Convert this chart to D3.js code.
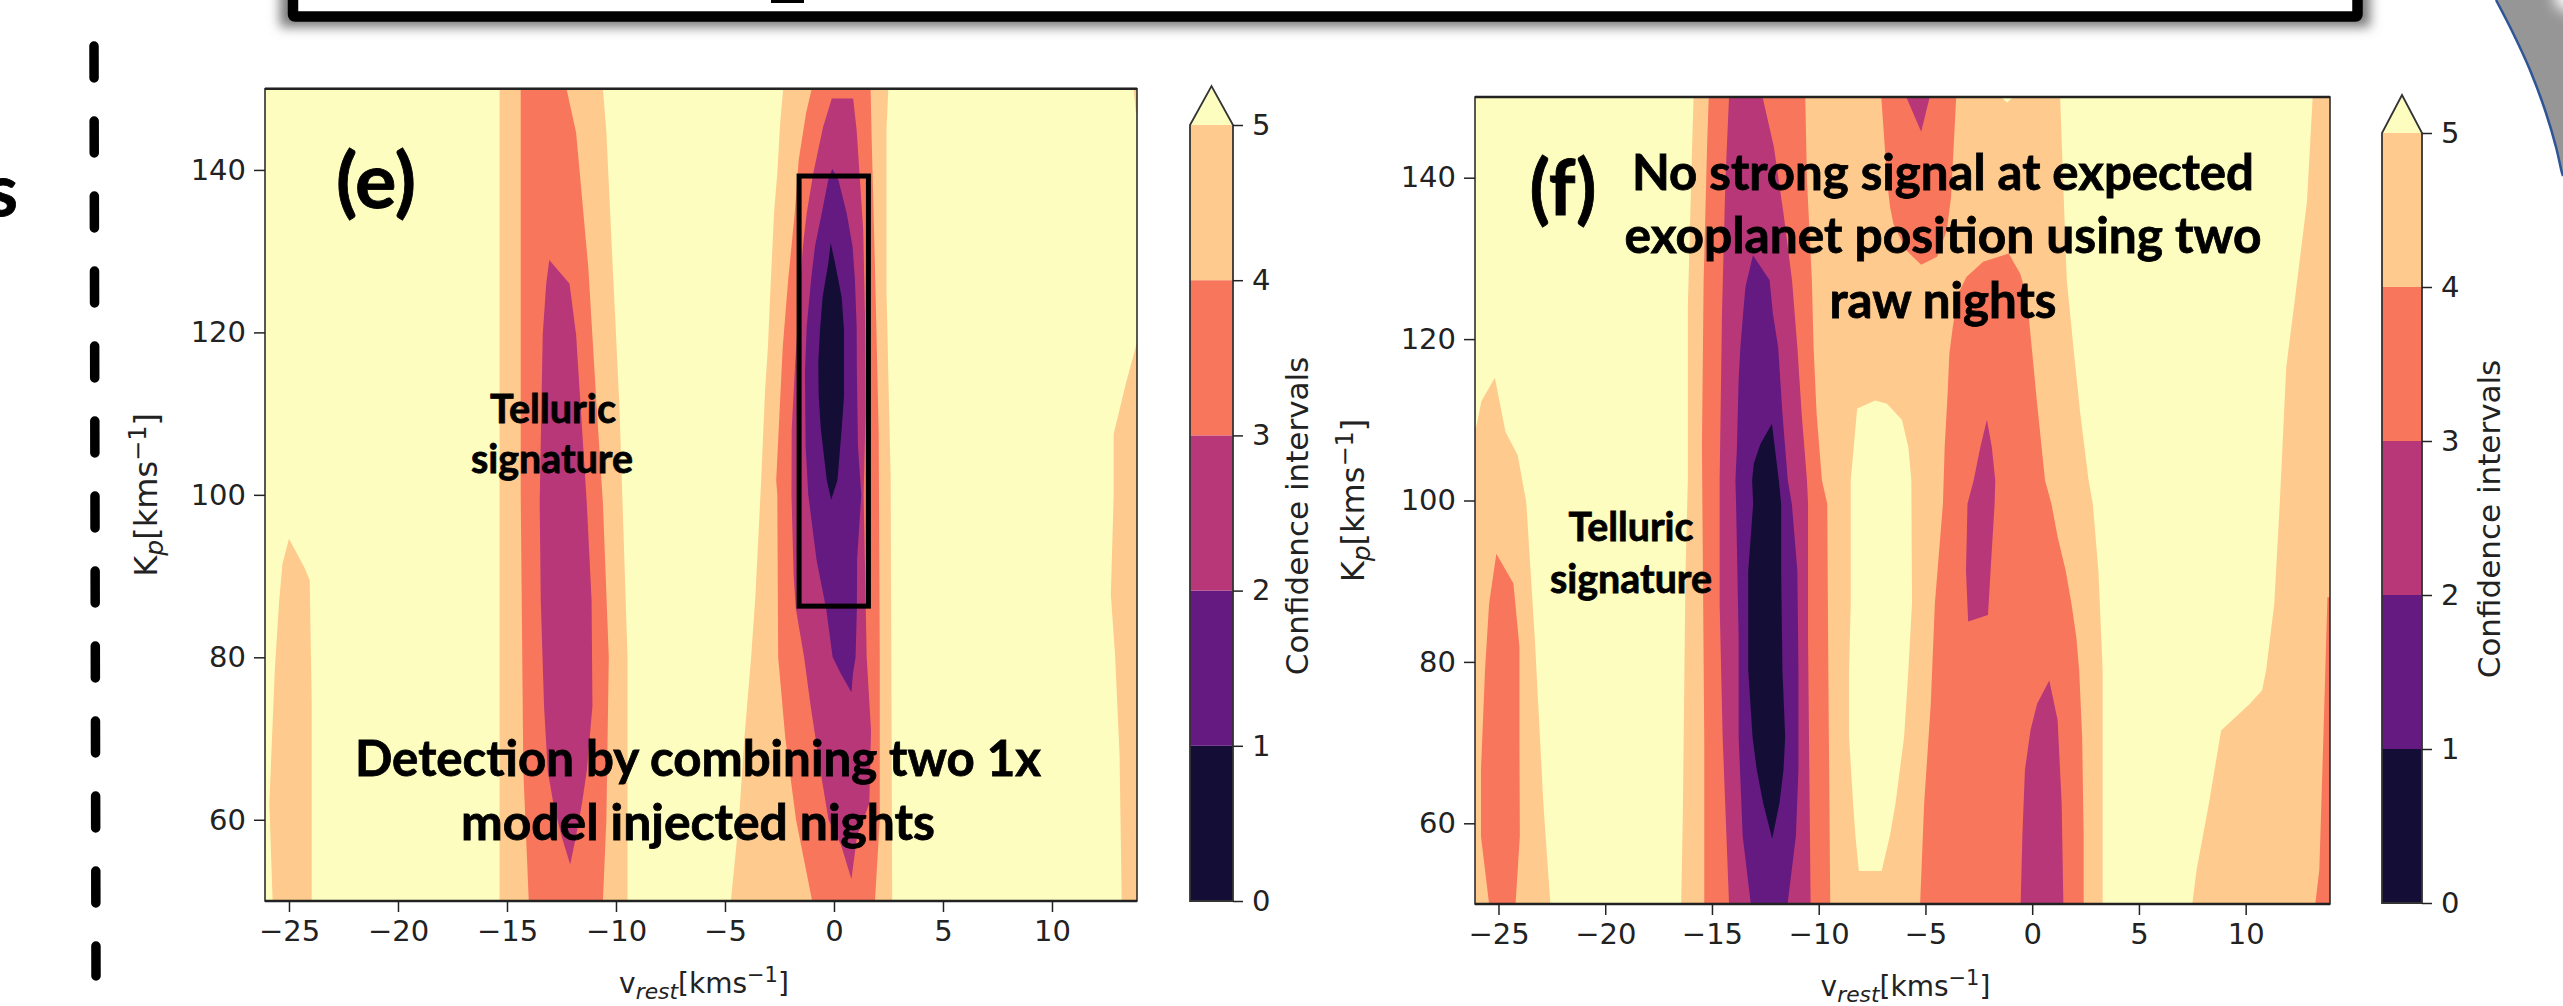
<!DOCTYPE html>
<html>
<head>
<meta charset="utf-8">
<script src="https://cdn.jsdelivr.net/npm/d3@7"></script>
<style>
  html, body { margin: 0; padding: 0; background: #fff; overflow: hidden; }
  .tick text, .lab { font-family: "DejaVu Sans"; fill: #222; }
  .note { font-family: Lato; font-weight: 700; fill: #000; stroke: #000; stroke-width: 0.8; }
</style>
</head>
<body>
<svg id="fig" width="2563" height="1006"></svg>
<script>
// confidence levels, colours from low to high (above 5 is the plot background)
var levels = [0, 1, 2, 3, 4, 5]
var bandColors = ["#140e36", "#641a80", "#b73779", "#f8765c", "#feca8d"]
var overColor = "#fcfdbf"

var vTicks = [-25, -20, -15, -10, -5, 0, 5, 10]
var kpTicks = [60, 80, 100, 120, 140]

// contours as [v_rest, Kp]
var eLeftPeach = [[-25, 94.6], [-24.3, 91.1], [-24.05, 89.5], [-23.96, 74.3], [-23.96, 50], [-25.75, 50], [-25.9, 62], [-25.65, 78.4], [-25.46, 86.6], [-25.3, 91.5]]
var eRightPeach = [[14, 119.8], [13.39, 113.7], [12.83, 107.5], [12.83, 100], [12.7, 87.7], [12.9, 80], [13.1, 68], [13.2, 50], [14, 50]]
var eCornerPeach = [[13.75, 150], [14, 150], [14, 147], [13.85, 147]]
var eTelluricPeach = [[-15.34, 150], [-10.6, 150], [-10.44, 144.6], [-10.15, 128], [-9.85, 111.4], [-9.7, 99], [-9.47, 80], [-9.47, 50], [-15.34, 50]]
var eTelluricSalmon = [[-14.37, 150], [-12.27, 150], [-11.83, 144.6], [-11.27, 128], [-10.9, 111.4], [-10.6, 99], [-10.33, 80], [-10.44, 60], [-10.6, 50], [-14, 50], [-14.25, 66], [-14.37, 100]]
var eTelluricMagenta = [[-13.06, 128.9], [-12.13, 126], [-11.83, 119.7], [-11.34, 99], [-11.12, 87], [-11.08, 74], [-11.34, 66], [-11.56, 62], [-11.83, 58], [-12.1, 54.5], [-12.5, 58], [-12.87, 62], [-13.13, 66], [-13.3, 74], [-13.45, 87], [-13.5, 99], [-13.36, 119.7], [-13.2, 126]]
var eSignalPeach = [[-2.33, 150], [2.49, 150], [2.41, 145], [2.41, 125], [2.49, 115], [2.6, 102], [2.67, 50], [-4.73, 50], [-4.36, 60], [-4.1, 70.4], [-3.8, 80], [-3.6, 87.7], [-3.34, 101.8], [-3.16, 112.9], [-3.03, 118.2], [-2.93, 124.4], [-2.75, 134.7], [-2.6, 139.6], [-2.47, 145.7]]
var eSignalSalmon = [[-1.02, 150], [1.68, 150], [1.73, 143.7], [1.88, 128], [1.97, 117.5], [2.05, 107.6], [2.1, 80], [2.1, 60], [1.88, 50], [-1, 50], [-1.74, 60], [-2.23, 70], [-2.56, 80], [-2.6, 100], [-2.65, 101.8], [-2.5, 110], [-2.35, 118.2], [-2.1, 126.5], [-1.8, 134.7], [-1.62, 141.2], [-1.28, 147]]
var eSignalMagenta = [[-0.1, 148.8], [0.88, 148.8], [1.04, 144.9], [1.19, 138.8], [1.34, 132.6], [1.42, 122.4], [1.45, 110], [1.36, 100], [1.5, 80], [1.7, 71], [1.62, 62], [1.06, 58], [0.8, 52.7], [0.31, 57], [-0.25, 60], [-0.62, 66], [-1.07, 74], [-1.37, 80], [-1.75, 86], [-1.85, 90], [-1.95, 100], [-1.94, 108], [-1.78, 116.2], [-1.43, 130.5], [-1.25, 134.7], [-0.95, 139.6], [-0.5, 145.3]]
var eSignalPurple = [[-0.08, 140.1], [0.2, 138.8], [0.58, 134.7], [0.85, 130.6], [0.96, 126.5], [1.04, 120.7], [1.05, 115], [1.1, 106], [1.25, 100], [1.06, 92], [1.05, 86], [0.99, 80], [0.87, 78], [0.8, 75.7], [0.31, 78], [-0.06, 80], [-0.36, 86], [-0.8, 92], [-1.18, 100], [-1.3, 106], [-1.33, 115], [-1.25, 120.7], [-1.05, 126.5], [-0.87, 130.6], [-0.56, 134.7], [-0.26, 138.8]]
var eSignalDark = [[-0.15, 131], [0.05, 128.5], [0.35, 124.4], [0.46, 120.3], [0.46, 112.1], [0.35, 108], [0.16, 101.8], [-0.13, 99.4], [-0.33, 101.8], [-0.6, 108], [-0.7, 112.1], [-0.72, 116.2], [-0.64, 120.3], [-0.52, 124.4], [-0.26, 128.5]]

var fLeftPeach = [[-25.17, 115.2], [-24.67, 108.5], [-24.1, 105.6], [-23.7, 99.8], [-23.3, 83], [-23.1, 72.8], [-22.9, 62.5], [-22.57, 50], [-27, 50], [-27, 109], [-26.05, 109], [-25.8, 112.3]]
var fLeftSalmon = [[-25.1, 93.4], [-24.3, 89.7], [-24.02, 81.9], [-24.02, 70.7], [-24, 58.4], [-24.2, 50], [-25.44, 50], [-25.63, 54.2], [-25.82, 58.4], [-25.82, 66.6], [-25.63, 79], [-25.44, 87.2]]
var fMainPeach = [[-15.86, 150], [1.31, 150], [1.39, 143.8], [1.62, 127.3], [1.93, 119], [2.25, 110.8], [2.64, 102.5], [2.84, 99.6], [3.1, 91.3], [3.3, 79], [3.3, 50], [-16.44, 50], [-16.36, 62], [-16.24, 91], [-16.13, 102.5], [-16.13, 124], [-15.93, 143.8]]
var fHole = [[-7.35, 112.4], [-6.8, 112], [-6.1, 110], [-5.8, 106.6], [-5.66, 102.5], [-5.63, 87.2], [-5.8, 79], [-6, 70.7], [-6.4, 62.5], [-6.67, 58.4], [-7.05, 54.1], [-8.12, 54.1], [-8.28, 58.4], [-8.39, 62.5], [-8.58, 70.7], [-8.58, 79], [-8.5, 87.2], [-8.5, 102.5], [-8.36, 106.6], [-8.2, 111.4]]
var fSpot = [[-1.45, 150], [-0.9, 150], [-1.18, 149.3]]
var fRightPeach = [[13.14, 150], [15, 150], [15, 50], [7.5, 50], [7.7, 54.2], [8.28, 62.5], [8.85, 71.5], [10.2, 74.8], [10.77, 76.5], [10.96, 79], [11.34, 87.2], [11.6, 99.8], [11.9, 116.5], [12.3, 124.8], [12.87, 137]]
var fRightSalmon = [[13.83, 88], [15, 88], [15, 50], [13.26, 50], [13.45, 54.2], [13.64, 70.7]]
var fMainSalmon = [[-15.15, 150], [-10.63, 150], [-10.55, 139.7], [-10.32, 127.3], [-10.24, 119], [-10.1, 110.8], [-9.85, 102.5], [-9.6, 99.6], [-9.55, 79], [-9.46, 50], [-15.36, 50], [-15.36, 70], [-15.47, 106.6], [-15.39, 127.3], [-15.23, 143.8]]
var fMainMagenta = [[-14.2, 150], [-12.63, 150], [-12.1, 143.8], [-11.65, 135.6], [-11.25, 127.3], [-11, 119], [-10.8, 110.8], [-10.55, 102.5], [-10.5, 99.6], [-10.5, 83], [-10.38, 50], [-14.2, 50], [-14.5, 70.7], [-14.64, 87.2], [-14.64, 102.5], [-14.53, 123.2], [-14.37, 139.7]]
var fMainPurple = [[-13.08, 130.4], [-12.3, 127.3], [-12.15, 123.2], [-11.9, 119], [-11.7, 110.8], [-11.45, 102.5], [-11.26, 99.6], [-11, 91.3], [-10.95, 79], [-10.95, 66.6], [-11.07, 58.4], [-11.46, 50], [-13.18, 50], [-13.56, 58.4], [-13.75, 70.7], [-13.75, 83], [-13.87, 99.6], [-13.9, 102.5], [-13.83, 106.6], [-13.75, 114.9], [-13.67, 119], [-13.54, 123.2], [-13.43, 126.5]]
var fMainDark = [[-12.19, 109.5], [-11.87, 102.5], [-11.76, 99.6], [-11.76, 91.3], [-11.7, 79], [-11.57, 70.7], [-11.65, 66.6], [-11.84, 62.5], [-12.18, 58.1], [-12.6, 62.5], [-12.9, 66.6], [-13.1, 70.7], [-13.3, 79], [-13.3, 91.3], [-13.07, 99.6], [-13.12, 102.5], [-13.04, 104.6], [-12.73, 107]]
var fUpperSalmon = [[-7.07, 150], [-3.56, 150], [-3.68, 143.8], [-3.8, 137.6], [-4, 133.5], [-4.45, 130.2], [-5.2, 129.2], [-5.9, 131], [-6.5, 134.3], [-6.66, 136.4], [-6.8, 139.7], [-6.96, 145.9]]
var fUpperMagenta = [[-5.9, 150], [-4.8, 150], [-5.2, 145.7]]
var fLowerSalmon = [[-1.1, 130.6], [-0.56, 128.1], [-0.25, 125.2], [-0.1, 121.1], [0.05, 117], [0.2, 112.8], [0.6, 102.5], [0.9, 99.6], [1.19, 95.5], [1.57, 91.3], [1.84, 87.2], [2.07, 83], [2.2, 79], [2.34, 70.7], [2.41, 58.4], [2.41, 50], [-5.25, 50], [-5.06, 62.5], [-4.75, 74.8], [-4.56, 87.2], [-4.18, 99.6], [-4.1, 106.6], [-3.96, 113.3], [-3.88, 118.2], [-3.72, 121.5], [-3.45, 125.7], [-3.08, 127.7], [-2.3, 129.6]]
var fSideMagenta = [[-2.12, 110], [-1.89, 106.6], [-1.73, 102.5], [-1.76, 99.6], [-1.95, 91.3], [-2.07, 85.8], [-3.0, 85], [-3.1, 91.3], [-3.03, 99.6], [-2.74, 102.5], [-2.43, 106.6]]
var fLowMagenta = [[0.8, 77.7], [1.19, 72.8], [1.38, 62.5], [1.46, 50], [-0.54, 50], [-0.46, 58.4], [-0.34, 66.6], [-0.08, 71.5], [0.23, 74.8]]

// painted in this order, index into bandColors (-1 is the background colour)
var eRegions = [
  [eLeftPeach, 4], [eRightPeach, 4], [eCornerPeach, 4],
  [eTelluricPeach, 4], [eTelluricSalmon, 3], [eTelluricMagenta, 2],
  [eSignalPeach, 4], [eSignalSalmon, 3], [eSignalMagenta, 2], [eSignalPurple, 1], [eSignalDark, 0]
]
var fRegions = [
  [fLeftPeach, 4], [fLeftSalmon, 3],
  [fMainPeach, 4], [fHole, -1], [fSpot, -1],
  [fRightPeach, 4], [fRightSalmon, 3],
  [fMainSalmon, 3], [fMainMagenta, 2], [fMainPurple, 1], [fMainDark, 0],
  [fUpperSalmon, 3], [fUpperMagenta, 2], [fLowerSalmon, 3], [fSideMagenta, 2], [fLowMagenta, 2]
]

// the box around the signal in panel e [v0, v1, kp0, kp1]
var eBox = [-1.6, 1.58, 86.3, 139.25]

var svg = d3.select("#fig")

// blurred shadow filter for the slide frame
var defs = svg.append("defs")
defs.append("filter").attr("id", "soft").attr("x", "-5%").attr("y", "-200%").attr("width", "110%").attr("height", "500%")
    .append("feGaussianBlur").attr("stdDeviation", 6)
defs.append("filter").attr("id", "softer").attr("x", "-100%").attr("y", "-100%").attr("width", "300%").attr("height", "300%")
    .append("feGaussianBlur").attr("stdDeviation", 7)

// pieces of the slide around the charts
svg.append("rect").attr("x", 289).attr("y", -60).attr("width", 2072).attr("height", 78)
    .attr("fill", "none").attr("stroke", "#777").attr("stroke-width", 18).attr("filter", "url(#soft)")
svg.append("rect").attr("x", 293).attr("y", -40).attr("width", 2064.5).attr("height", 56.5)
    .attr("fill", "#fff").attr("stroke", "#000").attr("stroke-width", 10.5).attr("rx", 2)
svg.append("rect").attr("x", 771).attr("y", 0).attr("width", 33).attr("height", 3).attr("fill", "#000")

var swoosh = [[2496, 0], [2513, 33], [2530, 70], [2546, 113], [2556, 147], [2562, 173], [2563, 176]]
svg.append("path")
    .attr("d", d3.line().curve(d3.curveLinear)(swoosh.concat([[2563, 0]])) + "Z")
    .attr("fill", "#969696")
svg.append("circle").attr("cx", 2570).attr("cy", -4).attr("r", 16)
    .attr("fill", "#fff").attr("filter", "url(#softer)")
svg.append("path")
    .attr("d", d3.line().curve(d3.curveCatmullRom)(swoosh))
    .attr("fill", "none").attr("stroke", "#2f5597").attr("stroke-width", 2.5)

svg.append("line").attr("x1", 94).attr("y1", 46).attr("x2", 96).attr("y2", 976)
    .attr("stroke", "#000").attr("stroke-width", 9.5).attr("stroke-linecap", "round")
    .attr("stroke-dasharray", "32 43")

svg.append("text").attr("class", "note").attr("x", 18).attr("y", 216)
    .attr("text-anchor", "end").attr("font-size", 72).text("s")

function superLabel(g, first, sub, size) {
    g.attr("font-size", size)
    g.append("tspan").text(first)
    g.append("tspan").attr("font-style", "italic").attr("dy", 6).attr("font-size", size * 0.78).text(sub)
    g.append("tspan").attr("dy", -6).text("[kms")
    g.append("tspan").attr("dy", -11).attr("font-size", size * 0.75).text("\u22121")
    g.append("tspan").attr("dy", 11).text("]")
}

function drawPanel(p) {
    var x = d3.scaleLinear().domain(p.vDomain).range([p.left, p.right])
    var y = d3.scaleLinear().domain([50, 150]).range([p.bottom, p.top])
    var id = "clip" + p.name

    defs.append("clipPath").attr("id", id).append("rect")
        .attr("x", p.left).attr("y", p.top)
        .attr("width", p.right - p.left).attr("height", p.bottom - p.top)

    var plot = svg.append("g").attr("clip-path", "url(#" + id + ")")
    plot.append("rect")
        .attr("x", p.left).attr("y", p.top)
        .attr("width", p.right - p.left).attr("height", p.bottom - p.top)
        .attr("fill", overColor)

    var line = d3.line().x(function (d) { return x(d[0]) }).y(function (d) { return y(d[1]) })
    plot.selectAll("path").data(p.regions).enter().append("path")
        .attr("d", function (d) { return line(d[0]) + "Z" })
        .attr("fill", function (d) { return d[1] < 0 ? overColor : bandColors[d[1]] })

    // frame, heavier on top and bottom like the picture
    svg.append("rect")
        .attr("x", p.left).attr("y", p.top)
        .attr("width", p.right - p.left).attr("height", p.bottom - p.top)
        .attr("fill", "none").attr("stroke", "#222").attr("stroke-width", 1.5)
    svg.append("line").attr("x1", p.left).attr("x2", p.right).attr("y1", p.top).attr("y2", p.top).attr("stroke", "#222").attr("stroke-width", 2.5)
    svg.append("line").attr("x1", p.left).attr("x2", p.right).attr("y1", p.bottom).attr("y2", p.bottom).attr("stroke", "#222").attr("stroke-width", 2.5)

    var xAxis = svg.append("g").attr("transform", "translate(0," + p.bottom + ")")
        .call(d3.axisBottom(x).tickValues(vTicks).tickSize(11).tickPadding(8).tickFormat(function (d) { return String(d).replace("-", "\u2212") }))
    var yAxis = svg.append("g").attr("transform", "translate(" + p.left + ",0)")
        .call(d3.axisLeft(y).tickValues(kpTicks).tickSize(11).tickPadding(8))
    ;[xAxis, yAxis].forEach(function (a) {
        a.select(".domain").remove()
        a.selectAll(".tick line").attr("stroke", "#222").attr("stroke-width", 1.5)
        a.selectAll(".tick text").attr("font-size", 29).attr("font-family", "DejaVu Sans")
    })

    superLabel(svg.append("text").attr("class", "lab")
        .attr("x", (p.left + p.right) / 2 + 3).attr("y", p.bottom + 92).attr("text-anchor", "middle"), "v", "rest", 28)
    superLabel(svg.append("text").attr("class", "lab")
        .attr("text-anchor", "middle")
        .attr("transform", "translate(" + p.yLabelX + "," + (p.top + p.bottom) / 2 + ") rotate(-90)"), "K", "p", 32)

    // colour bar
    var c = d3.scaleLinear().domain([levels[0], levels[5]]).range([p.barBottom, p.barTop])
    var bar = svg.append("g")
    bar.selectAll("rect").data(bandColors).enter().append("rect")
        .attr("x", p.barLeft).attr("width", p.barRight - p.barLeft)
        .attr("y", function (d, i) { return c(levels[i + 1]) })
        .attr("height", function (d, i) { return c(levels[i]) - c(levels[i + 1]) })
        .attr("fill", function (d) { return d })
    var outline = [[p.barLeft, c(0)], [p.barLeft, c(5)], [(p.barLeft + p.barRight) / 2, p.barTip], [p.barRight, c(5)], [p.barRight, c(0)]]
    bar.append("path").attr("d", d3.line()([[p.barLeft, c(5)], [(p.barLeft + p.barRight) / 2, p.barTip], [p.barRight, c(5)]]) + "Z")
        .attr("fill", overColor)
    bar.append("path").attr("d", d3.line()(outline) + "Z").attr("fill", "none").attr("stroke", "#333").attr("stroke-width", 1.8)

    var barAxis = svg.append("g").attr("transform", "translate(" + p.barRight + ",0)")
        .call(d3.axisRight(c).tickValues(levels).tickSize(10).tickPadding(9).tickFormat(d3.format("d")))
    barAxis.select(".domain").remove()
    barAxis.selectAll(".tick line").attr("stroke", "#222").attr("stroke-width", 1.5)
    barAxis.selectAll(".tick text").attr("font-size", 29).attr("font-family", "DejaVu Sans")

    svg.append("text").attr("class", "lab").attr("font-size", 31).attr("text-anchor", "middle")
        .attr("transform", "translate(" + p.barLabelX + "," + p.barLabelY + ") rotate(-90)")
        .text("Confidence intervals")

    if (p.box) {
        svg.append("rect")
            .attr("x", x(p.box[0])).attr("y", y(p.box[3]))
            .attr("width", x(p.box[1]) - x(p.box[0])).attr("height", y(p.box[2]) - y(p.box[3]))
            .attr("fill", "none").attr("stroke", "#000").attr("stroke-width", 5)
    }

    p.notes.forEach(function (n) {
        svg.append("text").attr("class", "note")
            .attr("x", n[0]).attr("y", n[1]).attr("font-size", n[2])
            .attr("textLength", n[3]).attr("lengthAdjust", "spacingAndGlyphs")
            .attr("text-anchor", "middle").text(n[4])
    })
}

drawPanel({
    name: "e", regions: eRegions, vDomain: [-26.1, 13.9], box: eBox,
    left: 265, right: 1137, top: 88.7, bottom: 901, yLabelX: 157,
    barLeft: 1190, barRight: 1233, barTop: 125, barBottom: 901, barTip: 86,
    barLabelX: 1308, barLabelY: 516,
    notes: [
        [376, 208, 76, 80, "(e)"],
        [553, 423, 41, 126, "Telluric"],
        [552, 473, 41, 162, "signature"],
        [698, 776, 50, 686, "Detection by combining two 1x"],
        [698, 840, 50, 474, "model injected nights"]
    ]
})

drawPanel({
    name: "f", regions: fRegions, vDomain: [-26.1, 13.95], box: null,
    left: 1475, right: 2330, top: 97, bottom: 904, yLabelX: 1364,
    barLeft: 2382, barRight: 2422, barTop: 133, barBottom: 903, barTip: 95,
    barLabelX: 2500, barLabelY: 519,
    notes: [
        [1563, 215, 76, 67, "(f)"],
        [1943, 190, 50, 622, "No strong signal at expected"],
        [1943, 253, 50, 637, "exoplanet position using two"],
        [1943, 318, 50, 227, "raw nights"],
        [1631, 541, 41, 125, "Telluric"],
        [1631, 593, 41, 162, "signature"]
    ]
})
</script>
</body>
</html>
